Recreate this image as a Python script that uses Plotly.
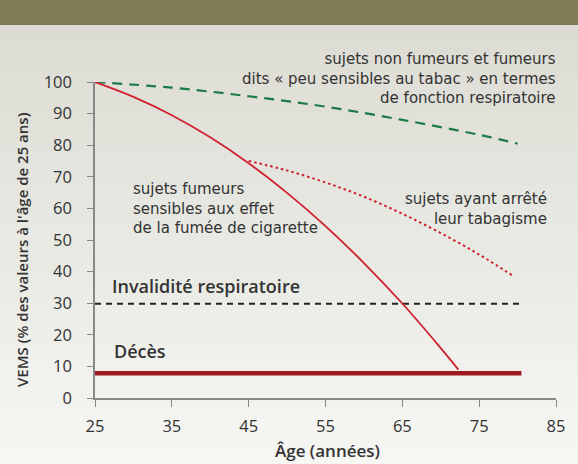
import plotly.graph_objects as go

# ---- data ----
age_green = [25, 35, 45, 55, 65, 75, 80]
vems_green = [100, 98.2, 95.5, 92.2, 88.0, 83.3, 80.5]

age_red = [25, 30, 35, 40, 45, 50, 55, 60, 65, 70, 72.3]
vems_red = [100, 95.3, 89.5, 82.5, 74.3, 64.9, 54.4, 42.7, 29.9, 15.8, 9.0]

age_stop = [45, 50, 55, 60, 65, 70, 75, 79.5]
vems_stop = [75, 72.0, 68.2, 63.7, 58.3, 52.2, 45.4, 38.5]

age_lim = [25, 80.5]
invalidite = [29.8, 29.8]
deces = [7.8, 7.8]

x_ticks = [25, 35, 45, 55, 65, 75, 85]
y_ticks = [0, 10, 20, 30, 40, 50, 60, 70, 80, 90, 100]

txt_top = ["sujets non fumeurs et fumeurs",
           "dits « peu sensibles au tabac » en termes",
           "de fonction respiratoire"]
txt_left = ["sujets fumeurs", "sensibles aux effet", "de la fumée de cigarette"]
txt_right = ["sujets ayant arrêté", "leur tabagisme"]
x_title = "Âge (années)"
y_title = "VEMS (% des valeurs à l'âge de 25 ans)"

FONT = "DejaVu Sans"
FONT2 = "Open Sans"
TXT = "#333333"

fig = go.Figure()
fig.add_trace(go.Scatter(x=age_green, y=vems_green, mode="lines",
                         line=dict(color="#1b7a45", width=2.2, dash="10px,7px", shape="spline"),
                         hoverinfo="skip"))
fig.add_trace(go.Scatter(x=age_stop, y=vems_stop, mode="lines",
                         line=dict(color="#d0202e", width=2, dash="2.5px,3px", shape="spline"),
                         hoverinfo="skip"))
fig.add_trace(go.Scatter(x=age_lim, y=invalidite, mode="lines",
                         line=dict(color="#222222", width=2, dash="6px,5px"),
                         hoverinfo="skip"))
fig.add_trace(go.Scatter(x=age_lim, y=deces, mode="lines",
                         line=dict(color="#9e1a20", width=4.5),
                         hoverinfo="skip"))
fig.add_trace(go.Scatter(x=age_red, y=vems_red, mode="lines",
                         line=dict(color="#d0202e", width=1.8, shape="spline"),
                         hoverinfo="skip"))

# paper coords: y=0 -> px 398, y=1 -> px 82 ; x=0 -> px 95, x=1 -> px 556
H = 316.0
W = 461.0
def py(p):
    return (398 - p) / H
def px(p):
    return (p - 95) / W

shapes = []
n = 30
top, bot = 25, 464
c0 = (220, 220, 212)
c1 = (246, 246, 243)
for i in range(n):
    p0 = top + (bot - top) * i / n
    p1 = top + (bot - top) * (i + 1) / n + 1
    t = i / (n - 1)
    c = tuple(round(c0[k] + (c1[k] - c0[k]) * t) for k in range(3))
    shapes.append(dict(type="rect", xref="paper", yref="paper", x0=-0.3, x1=1.1,
                       y0=py(p1), y1=py(p0), fillcolor="rgb(%d,%d,%d)" % c,
                       line=dict(width=0), layer="below"))
shapes.append(dict(type="rect", xref="paper", yref="paper", x0=-0.3, x1=1.1,
                   y0=py(25), y1=py(-2), fillcolor="#817c58",
                   line=dict(width=0), layer="below"))

ann = []
def add(text, xp, yp, xanchor, size=15, weight=None, family=FONT, angle=0):
    ann.append(dict(text=text, x=px(xp), y=py(yp), xref="paper", yref="paper",
                    xanchor=xanchor, yanchor="middle", showarrow=False, textangle=angle,
                    align="left" if xanchor == "left" else ("right" if xanchor == "right" else "center"),
                    font=dict(family=family, size=size, color=TXT, weight=weight)))

add("<br>".join(txt_top), 558, 79, "right", 15)
add("<br>".join(txt_left), 131, 208, "left", 15)
add("<br>".join(txt_right), 549, 209, "right", 15)
add("Invalidité respiratoire", 110, 286, "left", 18, 600, FONT2)
add("Décès", 112, 351, "left", 18, 600, FONT2)
add(x_title, 327, 450, "center", 17, 600, FONT2)
add(y_title, 22, 250, "center", 15, 600, FONT2, -90)

fig.update_layout(
    width=578, height=464,
    margin=dict(l=95, r=22, t=82, b=66),
    paper_bgcolor="#f4f4f1", plot_bgcolor="rgba(0,0,0,0)",
    showlegend=False,
    shapes=shapes, annotations=ann,
    font=dict(family=FONT2, color=TXT),
    xaxis=dict(range=[25, 85], tickvals=x_ticks, ticks="outside", ticklen=7,
               tickcolor="#888888", showline=True, linecolor="#888888", linewidth=1.5,
               showgrid=False, zeroline=False, tickfont=dict(size=16.5, color=TXT),
               ticklabelstandoff=5, automargin=False),
    yaxis=dict(range=[0, 100], tickvals=y_ticks, ticks="outside", ticklen=6,
               tickcolor="#888888", showline=True, linecolor="#888888", linewidth=1.5,
               showgrid=False, zeroline=False, tickfont=dict(size=16.5, color=TXT),
               ticklabelstandoff=12, automargin=False),
)

fig.write_html("out.html", config={"displayModeBar": False},
               post_script="document.body.style.margin='0';")
